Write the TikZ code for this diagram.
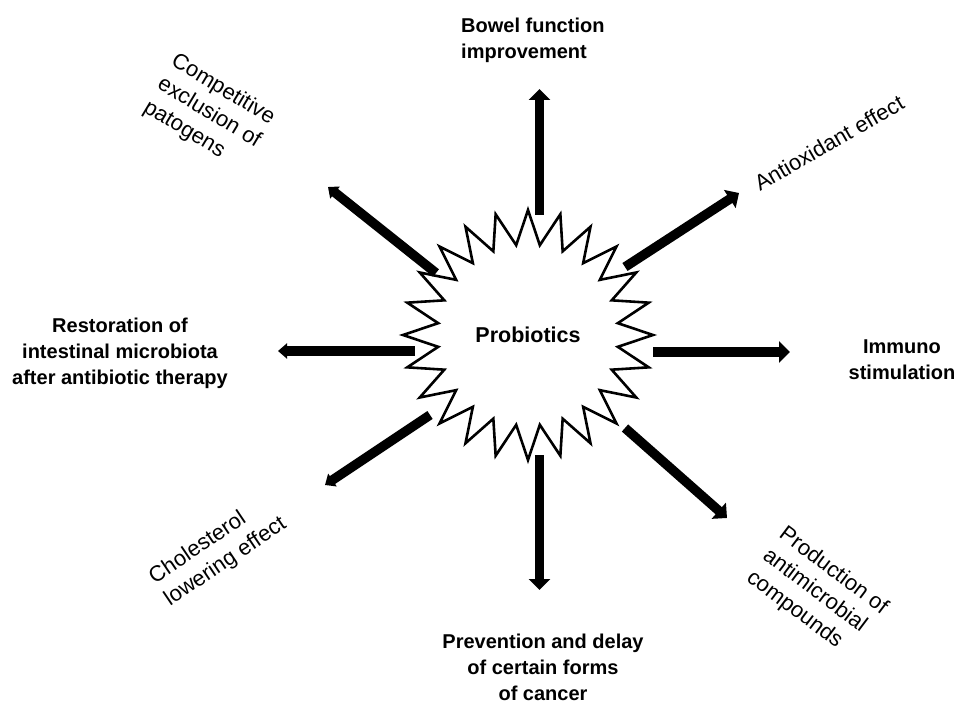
\documentclass[tikz,border=0pt]{standalone}
\usepackage{fontspec}
\setmainfont{Liberation Sans}
\usetikzlibrary{arrows.meta,shapes.geometric}
\begin{document}
\begin{tikzpicture}[x=1pt,y=-1pt,
  boldlbl/.style={font=\fontsize{20}{26}\selectfont\bfseries, inner sep=0pt},
  rotlbl/.style={font=\fontsize{22}{27}\selectfont, inner sep=0pt, align=left},
  bigarrow/.style={line width=9.5pt, -{Triangle[width=21pt,length=11pt]}},
  smallarrow/.style={line width=9.5pt, -{Triangle[width=15pt,length=9pt]}},
]
\useasboundingbox (0,0) rectangle (958,703);
\node[star, star points=24, star point ratio=1.38, minimum size=250pt, draw, line width=2.6pt, inner sep=0pt,
      font=\fontsize{21.5}{25}\selectfont\bfseries] (p) at (528,335) {Probiotics};

\coordinate (s1) at (539.5,215); \coordinate (e1) at (539.5,89);
\coordinate (s2) at (625,267);   \coordinate (e2) at (739,193);
\coordinate (s3) at (653,352);   \coordinate (e3) at (790,352);
\coordinate (s4) at (625,428);   \coordinate (e4) at (727,518);
\coordinate (s5) at (539.5,455); \coordinate (e5) at (539.5,590);
\coordinate (s6) at (430,415);   \coordinate (e6) at (325,485);
\coordinate (s7) at (415,351);   \coordinate (e7) at (278,351);
\coordinate (s8) at (436,273);   \coordinate (e8) at (328,187);

\draw[bigarrow] (s1) -- (e1);
\draw[bigarrow] (s2) -- (e2);
\draw[bigarrow] (s3) -- (e3);
\draw[bigarrow] (s4) -- (e4);
\draw[bigarrow] (s5) -- (e5);
\draw[smallarrow] (s6) -- (e6);
\draw[smallarrow] (s7) -- (e7);
\draw[smallarrow] (s8) -- (e8);

\node[boldlbl, align=left, anchor=west] (bowel) at (461,40) {Bowel function\\improvement};
\node[rotlbl, rotate=30] (anti) at (829,143) {Antioxidant effect};
\node[boldlbl, align=center] (immuno) at (902,360) {Immuno\\stimulation};
\node[rotlbl, rotate=-37] (prod) at (817,593) {Production of\\antimicrobial\\compounds};
\node[boldlbl, align=center] (prev) at (543,667) {Prevention and delay\\of certain forms\\of cancer};
\node[rotlbl, rotate=34] (chol) at (218,551) {Cholesterol\\lowering effect};
\node[boldlbl, align=center] (rest) at (120,353) {Restoration of\\intestinal microbiota\\after antibiotic therapy};
\node[rotlbl, rotate=-31] (comp) at (209,113) {Competitive\\exclusion of\\patogens};
\end{tikzpicture}
\end{document}
